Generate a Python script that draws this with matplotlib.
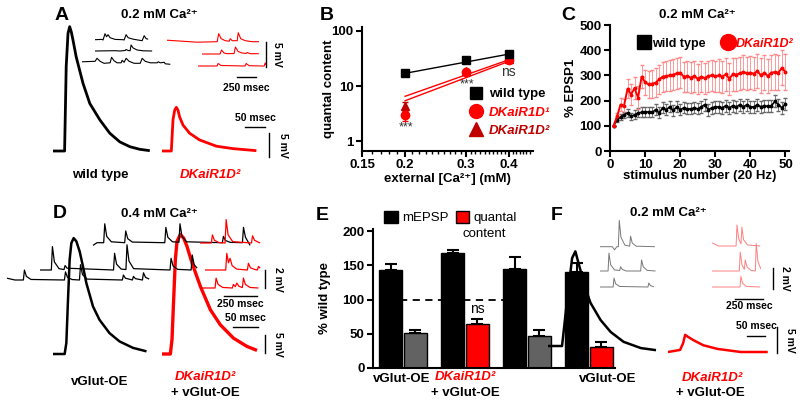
import numpy as np
import matplotlib
matplotlib.use("Agg")
import matplotlib.pyplot as plt
from matplotlib.lines import Line2D
from matplotlib.patches import Patch
from matplotlib.ticker import FixedLocator, NullLocator, NullFormatter

plt.rcParams["font.family"] = ["Liberation Sans", "DejaVu Sans"]
plt.rcParams["font.weight"] = "bold"
plt.rcParams["axes.linewidth"] = 1.5

W, H = 800, 404
RED = "#ff0000"
DARKRED = "#c00000"
GRAY = "#626262"

# B: quantal content vs external calcium
ca_conc = [0.2, 0.3, 0.4]
qc_wt = [17, 30, 38]
qc_wt_err = [1.5, 2.5, 3.0]
qc_d1 = [3.0, 18, 30]
qc_d1_err = [0.7, 1.5, 2.5]
qc_d2 = [4.3, 19, 31]
qc_d2_err = [0.8, 1.5, 2.5]
fit_ca = [0.2, 0.4]
fit_wt = [17, 38]
fit_d1 = [5.4, 28]
fit_d2 = [6.5, 30]

# C: short term facilitation, % of EPSP1
stim = list(range(1, 51))
red_mean = [100, 137, 184, 180, 247, 224, 250, 211, 295, 273, 264, 267, 271, 284, 295, 297, 300, 303, 308, 311,
            295, 297, 291, 297, 287, 295, 289, 297, 300, 297, 300, 295, 304, 287, 304, 303, 308, 313, 308, 311,
            307, 317, 300, 311, 297, 311, 313, 311, 330, 313]
red_err = [0, 15, 25, 28, 38, 40, 42, 45, 45, 50, 52, 55, 58, 58, 60, 60, 62, 62, 62, 62,
           60, 62, 62, 62, 60, 62, 62, 62, 62, 62, 64, 64, 64, 64, 65, 65, 65, 66, 66, 66,
           66, 68, 68, 68, 68, 70, 70, 70, 70, 70]
black_mean = [100, 124, 135, 144, 151, 137, 144, 151, 153, 153, 156, 153, 164, 151, 171, 164, 175, 161, 175, 164,
              171, 167, 167, 171, 167, 175, 184, 164, 171, 175, 175, 171, 180, 171, 180, 175, 184, 175, 184, 175,
              175, 184, 175, 180, 177, 180, 197, 184, 171, 187]
black_err = [0, 8, 10, 12, 15, 15, 18, 18, 20, 20, 20, 20, 22, 22, 22, 22, 22, 22, 22, 22,
             22, 22, 22, 22, 22, 24, 24, 24, 24, 24, 24, 24, 24, 24, 24, 24, 24, 24, 24, 24,
             24, 24, 24, 24, 24, 24, 24, 24, 24, 24]

# E: % wild type
mepsp_pct = [143, 168, 144, 140]
mepsp_err = [9, 5, 18, 13]
qc_pct = [51, 64, 47, 31]
qc_pct_err = [4, 8, 9, 7]
qc_colors = [GRAY, RED, GRAY, RED]

# traces: (msec, mV)
epsp_a_wt = [(0, 0), (29, 0), (33, 17.6), (37.5, 24.5), (41.7, 25.9), (45.8, 24.8), (50, 23.1), (58, 19.6), (75, 14.1),
             (92, 9.9), (117, 6.5), (142, 3.7), (167, 1.9), (192, 0.9), (217, 0.35), (242, 0.07)]
epsp_a_kr = [(0, 0), (23.3, 0), (27.5, 6.5), (31.7, 8.5), (35.8, 9.1), (40, 8.5), (44, 7.1), (52.5, 5.4), (69, 3.7),
             (94, 2.3), (136, 1.0), (177, 0.5), (236, 0.07)]
epsp_d_wt = [(0, 0), (23.3, 0), (26.7, 3.1), (30, 15.1), (33.3, 26.2), (36.7, 30.8), (41.3, 32.2), (46.7, 31.3),
             (53.3, 28.5), (60, 24.3), (66.7, 19.7), (80, 13.2), (93, 9.5), (113, 5.8), (133, 3.5), (160, 1.7), (187, 0.74)]
epsp_d_kr = [(0, 0), (16.7, 0), (20, 4.0), (23.3, 15.1), (26.7, 26.2), (30, 31.3), (36.7, 33.2), (43.3, 32.2),
             (50, 29.9), (60, 25.3), (76.7, 18.8), (96.7, 12.3), (116.7, 8.1), (143, 4.4), (170, 2.1), (190, 1.0)]
epsp_f_wt = [(0, 0), (39, 0), (53, 8.8), (67, 16.9), (76, 18.2), (90, 14.6), (104, 11.1), (118, 8.3), (146, 5.0),
             (174, 2.7), (210, 0.8), (258, -0.4), (300, -0.8)]
epsp_f_kr = [(0, 0), (33.6, 0.4), (42, 1.7), (47.6, 3.3), (56, 2.9), (70, 2.3), (98, 1.3), (137, 0.6), (202, 0), (277, 0)]

mini_a_wt1 = [(0, 0), (92, 0.06), (106, -0.06), (132, 1.2), (152, 0.6), (172, 1.0), (198, 0.4), (264, 0.06), (370, 0),
              (383, -0.06), (409, 1.0), (436, 0.4), (502, 0.1), (620, -0.2), (647, 0.8), (673, 0.2), (700, 0.1)]
mini_a_wt2 = [(0, 0), (264, 0.06), (330, 0), (396, 0.1), (409, 0.3), (436, 0.1), (462, 0.06), (475, 1.2), (502, 0.6),
              (554, 0.2), (634, 0.04), (752, 0)]
mini_a_wt3 = [(0, 0.3), (172, 0.4), (198, 1.0), (238, 0.4), (290, 0), (370, 0.1), (389, 1.2), (422, 0.5), (462, 0.1),
              (515, 0.1), (528, 0.6), (554, 0.2), (581, 1.0), (620, 0.4), (686, 0), (766, 0), (792, 1.0), (832, 0.4),
              (898, 0.1), (990, 0.1), (1003, 0.3), (1030, 0.1), (1082, 0.2), (1096, -0.1), (1162, -0.2)]
mini_a_kr1 = [(0, 0.3), (396, -0.1), (660, 0), (680, 1.6), (713, 0.6), (766, 0.2), (818, 0.1), (832, 0.6), (858, 0.2),
              (924, 0.2), (937, 1.8), (970, 0.6), (1030, 0.2), (1122, 0), (1210, 0)]
mini_a_kr2 = [(0, 0), (238, 0), (257, 0.8), (290, 0.2), (330, 0.06), (422, 0.1), (440, 1.4), (475, 0.5), (528, 0.2),
              (581, 0.1), (594, 0.3), (634, 0.06), (748, 0.06)]
mini_a_kr3 = [(0, 0), (251, 0), (264, 0.5), (304, 0.1), (620, 0), (634, 0.5), (673, 0.06), (845, 0), (871, 0),
              (884, 0.6), (898, 0.2)]

mini_d_wt1 = [(0, -0.3), (30, 0), (81, 0), (89, 2.1), (104, 0.7), (139, 0.1), (240, 0), (248, 1.3), (263, 0.45),
              (298, 0.07), (544, 0), (552, 1.7), (567, 0.6), (602, 0.1), (651, 0.05), (659, 2.1), (674, 0.7),
              (709, 0.1), (980, 0), (988, 0.7), (1003, 0.25), (1038, 0.04), (1132, 0), (1140, 1.7), (1155, 0.6),
              (1175, 0.1), (1190, -0.3)]
mini_d_wt2 = [(0, 0), (86, 0), (94, 2.6), (109, 0.9), (144, 0.15), (182, 0.05), (190, 0.5), (205, 0.2), (557, 0),
              (565, 1.85), (580, 0.65), (615, 0.1), (651, 0.05), (659, 2.8), (674, 1.0), (709, 0.15), (985, 0),
              (993, 1.3), (1008, 0.45), (1043, 0.07), (1145, 0), (1153, 1.67), (1168, 0.6), (1190, 0.2)]
mini_d_wt3 = [(0, 0.2), (60, 0), (124, 0), (132, 1.1), (147, 0.4), (182, 0.06), (435, 0), (443, 0.9), (458, 0.3),
              (493, 0.05), (549, 0), (557, 1.7), (572, 0.6), (607, 0.1), (874, 0), (882, 0.55), (897, 0.2), (950, 0),
              (958, 0.4), (973, 0.15), (1026, 0), (1034, 0.8), (1049, 0.3), (1077, 0.1)]
mini_d_kr1 = [(0, 0), (86, 0), (94, 0.9), (109, 0.3), (144, 0.05), (190, 0), (198, 2.6), (213, 0.9), (248, 0.15),
              (390, 0), (398, 0.8), (413, 0.3), (448, 0.05), (456, 0)]
mini_d_kr2 = [(0, 0), (157, 0), (165, 1.85), (178, 0.8), (190, 1.3), (205, 0.5), (240, 0.1), (321, 0), (329, 0.75),
              (344, 0.25), (379, 0.05), (397, 0), (405, 0.4), (418, 0.2)]
mini_d_kr3 = [(0, 0), (114, 0), (122, 1.1), (137, 0.4), (172, 0.06), (245, 0), (253, 0.4), (268, 0.15), (279, 0.55),
              (294, 0.2), (321, 0.05), (329, 1.1), (344, 0.4), (379, 0.06), (443, 0)]

mini_f_wt1 = [(0, 0), (110, 0), (130, -0.3), (150, 0), (164, 0), (172, 2.5), (187, 0.9), (222, 0.15), (265, 0.05),
              (273, 1.0), (288, 0.35), (323, 0.05), (490, 0)]
mini_f_wt2 = [(0, 0), (72, 0), (80, 1.7), (95, 0.6), (130, 0.1), (176, 0.05), (184, 0.4), (199, 0.15), (234, 0),
              (363, 0), (371, 1.05), (386, 0.4), (421, 0.06), (496, 0)]
mini_f_wt3 = [(0, 0), (117, 0), (125, 0.85), (140, 0.3), (175, 0.05), (428, 0), (436, 0.38), (451, 0.13), (481, 0.02)]
mini_f_kr1 = [(0, 0.3), (60, 0), (215, 0), (223, 2.0), (238, 0.7), (259, 0.2), (267, 1.8), (282, 0.6), (317, 0.1),
              (430, 0)]
mini_f_kr2 = [(0, 0), (244, 0), (252, 1.8), (267, 0.6), (289, 0.15), (297, 1.05), (312, 0.4), (347, 0.06), (387, 0),
              (395, 2.6), (410, 0.9), (436, 0.2)]
mini_f_kr3 = [(0, 0), (250, 0), (258, 1.0), (273, 0.35), (308, 0.05), (430, 0)]


def px_rect(x0, y0, x1, y1):
    return [x0 / W, 1 - y1 / H, (x1 - x0) / W, (y1 - y0) / H]


def style_axes(ax):
    for s in ["top", "right"]:
        ax.spines[s].set_visible(False)
    ax.tick_params(direction="out", length=4, width=1.5, labelsize=9.5, pad=2)
    for lab in ax.get_xticklabels() + ax.get_yticklabels():
        lab.set_fontweight("bold")


fig = plt.figure(figsize=(W / 100, H / 100), dpi=100)

# ---- B
axB = fig.add_axes(px_rect(362, 27, 533, 151))
axB.set_xscale("log")
axB.set_yscale("log")
axB.set_xlim(0.15, 0.47)
axB.set_ylim(0.66, 118)
axB.plot(fit_ca, fit_wt, color="k", lw=1)
axB.plot(fit_ca, fit_d1, color=RED, lw=1)
axB.plot(fit_ca, fit_d2, color=RED, lw=1)
axB.errorbar(ca_conc, qc_d2, yerr=qc_d2_err, fmt="^", color=DARKRED, ms=6, capsize=2, lw=1)
axB.errorbar(ca_conc, qc_d1, yerr=qc_d1_err, fmt="o", color=RED, ms=6, capsize=2, lw=1)
axB.errorbar(ca_conc, qc_wt, yerr=qc_wt_err, fmt="s", color="k", ms=5.5, capsize=2, lw=1)
axB.xaxis.set_major_locator(FixedLocator([0.15, 0.2, 0.3, 0.4]))
axB.set_xticklabels(["0.15", "0.2", "0.3", "0.4"])
axB.xaxis.set_minor_locator(FixedLocator([0.16, 0.17, 0.18, 0.19] + [0.21 + 0.01 * i for i in range(9)]
                                         + [0.31 + 0.01 * i for i in range(9)] + [0.41, 0.42, 0.43, 0.44, 0.45, 0.46]))
axB.xaxis.set_minor_formatter(NullFormatter())
axB.yaxis.set_major_locator(FixedLocator([1, 10, 100]))
axB.set_yticklabels(["1", "10", "100"])
axB.yaxis.set_minor_locator(NullLocator())
axB.tick_params(which="minor", length=2, width=1)
style_axes(axB)
axB.set_ylabel("quantal content", fontsize=9.5, fontweight="bold")
axB.yaxis.set_label_coords(-0.158, 0.5)
axB.set_xlabel("external [Ca²⁺] (mM)", fontsize=9.5, fontweight="bold")
axB.xaxis.set_label_coords(0.5, -0.177)
legB = axB.legend([Line2D([], [], marker="s", ls="", color="k", ms=8.5),
                   Line2D([], [], marker="o", ls="", color=RED, ms=10),
                   Line2D([], [], marker="^", ls="", color=DARKRED, ms=9.5)],
                  ["wild type", "DKaiR1D¹", "DKaiR1D²"], loc="upper left", bbox_to_anchor=(0.585, 0.56),
                  frameon=False, handlelength=1.1, handletextpad=0.45, labelspacing=0.45, borderpad=0,
                  prop=dict(weight="bold", size=9.5))
for txt, col in zip(legB.get_texts(), ["k", RED, DARKRED]):
    txt.set_color(col)
legB.get_texts()[1].set_style("italic")
legB.get_texts()[2].set_style("italic")

# ---- C
axC = fig.add_axes(px_rect(610, 25, 789, 151))
axC.errorbar(stim, black_mean, yerr=black_err, color="k", ecolor="#666666", elinewidth=0.6, capsize=1.2,
             marker="o", ms=1.8, lw=1.2)
axC.errorbar(stim, red_mean, yerr=red_err, color=RED, ecolor="#ff8888", elinewidth=0.6, capsize=1.2,
             marker="o", ms=1.8, lw=1.4)
axC.set_xlim(0, 51)
axC.set_ylim(0, 500)
axC.set_xticks([0, 10, 20, 30, 40, 50])
axC.set_yticks([0, 100, 200, 300, 400, 500])
style_axes(axC)
axC.set_ylabel("% EPSP1", fontsize=9.5, fontweight="bold")
axC.yaxis.set_label_coords(-0.185, 0.5)
axC.set_xlabel("stimulus number (20 Hz)", fontsize=9.5, fontweight="bold")
axC.xaxis.set_label_coords(0.5, -0.151)
legC = axC.legend([Line2D([], [], marker="s", ls="", color="k", ms=9.5),
                   Line2D([], [], marker="o", ls="", color=RED, ms=11.5)],
                  ["wild type", "DKaiR1D²"], loc="upper left", bbox_to_anchor=(0.12, 0.95), ncol=2,
                  frameon=False, handlelength=1, handletextpad=0.15, columnspacing=1.3, borderpad=0,
                  prop=dict(weight="bold", size=9))
legC.get_texts()[1].set_color(RED)
legC.get_texts()[1].set_style("italic")

# ---- E
axE = fig.add_axes(px_rect(373, 229, 615, 368))
grp = np.arange(len(mepsp_pct))
axE.plot([-0.05, 1.62], [100, 100], color="k", lw=1.3, ls=(0, (4, 3)), zorder=0)
axE.bar(grp - 0.2, mepsp_pct, width=0.36, color="k", edgecolor="k", lw=1, zorder=2)
axE.bar(grp + 0.2, qc_pct, width=0.36, color=qc_colors, edgecolor="k", lw=1, zorder=2)
axE.errorbar(grp - 0.2, mepsp_pct, yerr=[[0] * 4, mepsp_err], fmt="none", ecolor="k", capsize=4.3,
             elinewidth=1.5, capthick=1.5, zorder=1)
axE.errorbar(grp + 0.2, qc_pct, yerr=[[0] * 4, qc_pct_err], fmt="none", ecolor="k", capsize=4.3,
             elinewidth=1.5, capthick=1.5, zorder=1)
axE.set_xlim(-0.484, 3.42)
axE.set_ylim(0, 203)
axE.set_xticks([])
axE.set_yticks([0, 50, 100, 150, 200])
style_axes(axE)
axE.set_ylabel("% wild type", fontsize=9.5, fontweight="bold")
axE.yaxis.set_label_coords(-0.174, 0.5)
axE.text(1.2, qc_pct[1] + qc_pct_err[1] + 4, "ns", ha="center", va="bottom", fontsize=10, fontweight="normal")
legE = axE.legend([Patch(facecolor="k", edgecolor="k"), Patch(facecolor=RED, edgecolor="k")],
                  ["mEPSP", "quantal"], loc="upper left", bbox_to_anchor=(0.02, 1.175), ncol=2,
                  frameon=False, handlelength=1.0, handleheight=0.95, handletextpad=0.35, columnspacing=0.55,
                  borderpad=0, prop=dict(weight="normal", size=9.5))

# ---- overlay in pixel coordinates: traces, scale bars, text
ov = fig.add_axes([0, 0, 1, 1])
ov.set_xlim(0, W)
ov.set_ylim(H, 0)
ov.axis("off")


def trace(pts, x0, y0, ppms, ppmv, color, lw):
    t, v = np.array(pts, dtype=float).T
    ov.plot(x0 + t * ppms, y0 - v * ppmv, color=color, lw=lw, solid_joinstyle="round", solid_capstyle="butt")


def hbar(x1, y, ms, ppms, label, ly):
    ov.plot([x1 - ms * ppms, x1], [y, y], color="k", lw=1)
    ov.text(x1 - ms * ppms / 2, ly, label, ha="center", va="center", fontsize=7.5, fontweight="bold")


def vbar(x, y1, mv, ppmv, label, lx):
    ov.plot([x, x], [y1 - mv * ppmv, y1], color="k", lw=1)
    ov.text(lx, y1 - mv * ppmv / 2, label, ha="center", va="center", rotation=270, fontsize=7.5, fontweight="bold")


def label(x, y, s, color="k", size=9.5, style="normal", weight="bold"):
    ov.text(x, y, s, ha="center", va="center", color=color, fontsize=size, fontstyle=style, fontweight=weight)


# A
trace(epsp_a_wt, 53, 151, 0.4, 4.8, "k", 2.0)
trace(epsp_a_kr, 162, 151, 0.4, 4.8, RED, 2.0)
for pts, x0, y0 in [(mini_a_wt1, 95, 39.7), (mini_a_wt2, 95, 51), (mini_a_wt3, 82, 63.3)]:
    trace(pts, x0, y0, 0.076, 5, "k", 0.8)
for pts, x0, y0 in [(mini_a_kr1, 167, 41.7), (mini_a_kr2, 202, 54), (mini_a_kr3, 198, 66)]:
    trace(pts, x0, y0, 0.076, 5, RED, 0.8)
vbar(266, 67, 5, 5, "5 mV", 277)
hbar(256, 77, 250, 0.076, "250 msec", 88)
hbar(265, 127, 50, 0.4, "50 msec", 118)
vbar(269, 157, 5, 4.8, "5 mV", 283)

# D
trace(epsp_d_wt, 53, 354, 0.5, 3.6, "k", 1.8)
trace(epsp_d_kr, 162, 354, 0.5, 3.6, RED, 2.4)
for pts, x0, y0 in [(mini_d_wt1, 93, 242.7), (mini_d_wt2, 40, 270), (mini_d_wt3, 7, 280)]:
    trace(pts, x0, y0, 0.132, 9, "k", 0.9)
for pts, x0, y0 in [(mini_d_kr1, 200, 243), (mini_d_kr2, 205, 270), (mini_d_kr3, 200, 288)]:
    trace(pts, x0, y0, 0.132, 9, RED, 0.9)
vbar(265, 288, 2, 9, "2 mV", 278)
hbar(257, 296, 250, 0.132, "250 msec", 304)
hbar(258, 327, 50, 0.5, "50 msec", 318)
vbar(265, 353, 5, 3.6, "5 mV", 278)

# F
trace(epsp_f_wt, 548, 346, 0.36, 5.2, "k", 1.8)
trace(epsp_f_kr, 668, 352, 0.36, 5.2, RED, 1.8)
for pts, y0 in [(mini_f_wt1, 246.7), (mini_f_wt2, 271), (mini_f_wt3, 287)]:
    trace(pts, 600, y0, 0.112, 10.5, "#777777", 0.7)
for pts, y0 in [(mini_f_kr1, 246), (mini_f_kr2, 271), (mini_f_kr3, 287)]:
    trace(pts, 712, y0, 0.112, 10.5, "#ff8080", 0.7)
vbar(773, 289, 2, 10.5, "2 mV", 785)
hbar(763, 299, 250, 0.112, "250 msec", 306)
hbar(765, 336, 50, 0.36, "50 msec", 326)
vbar(777, 353, 5, 5.2, "5 mV", 790)

# B annotations
label(406, 127, "***", color="#333333", size=9, weight="normal")
label(467, 84, "***", color="#333333", size=9, weight="normal")
label(508, 72, "ns", color="#333333", size=10, weight="normal")

# E legend second line
label(484, 234, "content", size=9.5, weight="normal")

# panel letters and titles
for s, x, y in [("A", 62, 15), ("B", 327, 15), ("C", 568, 15), ("D", 60, 213), ("E", 322, 215), ("F", 557, 215)]:
    label(x, y, s, size=14)
label(159, 15, "0.2 mM Ca²⁺")
label(697, 15, "0.2 mM Ca²⁺")
label(159, 214, "0.4 mM Ca²⁺")
label(668, 213, "0.2 mM Ca²⁺")

# genotype labels
label(100, 175, "wild type")
label(210, 175, "DKaiR1D²", color=RED, style="italic")
label(100, 382, "vGlut-OE")
label(205, 377, "DKaiR1D²", color=RED, style="italic")
label(205, 393, "+ vGlut-OE")
label(402, 379, "vGlut-OE")
label(465, 377, "DKaiR1D²", color=RED, style="italic")
label(465, 393, "+ vGlut-OE")
label(608, 379, "vGlut-OE")
label(712, 378, "DKaiR1D²", color=RED, style="italic")
label(710, 393, "+ vGlut-OE")

fig.savefig("out.png", dpi=100)
